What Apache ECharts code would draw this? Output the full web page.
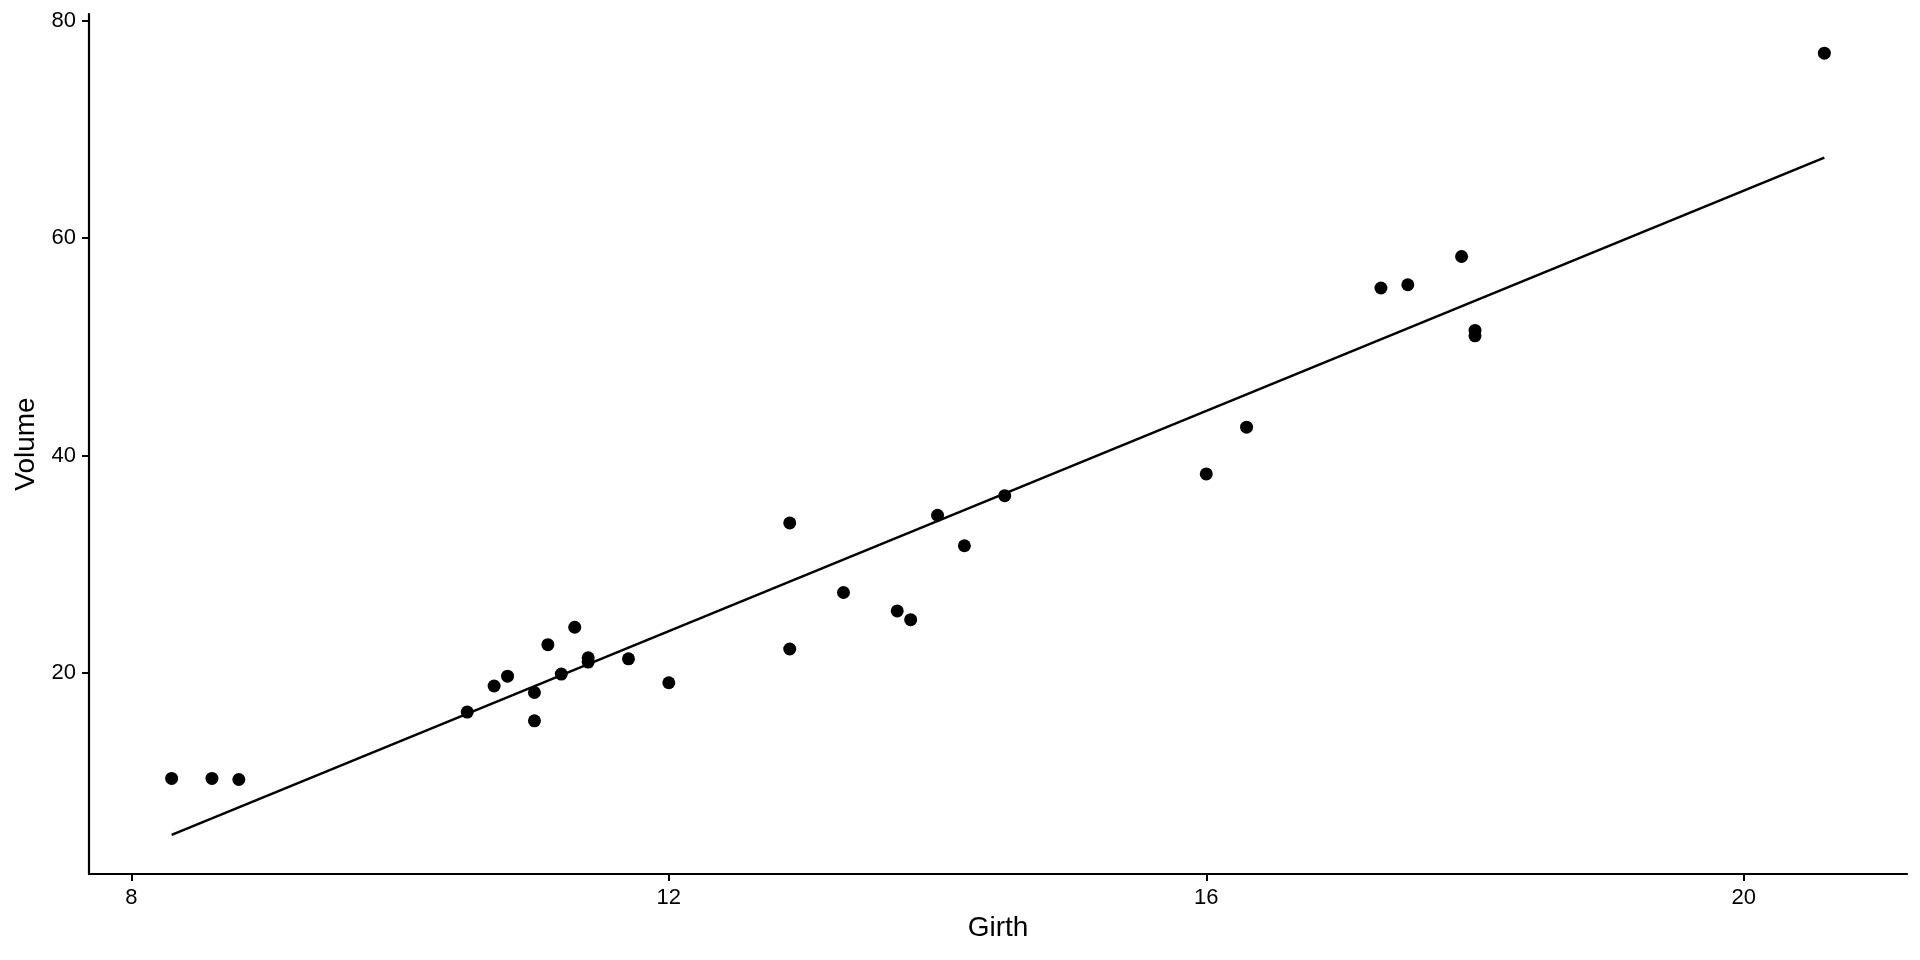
<!DOCTYPE html>
<html>
<head>
<meta charset="utf-8">
<script src="https://cdn.jsdelivr.net/npm/echarts@6/dist/echarts.min.js"></script>
<style>
  html, body { margin: 0; padding: 0; background: #fff; }
  #chart { width: 1920px; height: 960px; }
</style>
</head>
<body>
<div id="chart"></div>
<script>
// trees data: girth vs volume
const girth = [8.3, 8.6, 8.8, 10.5, 10.7, 10.8, 11.0, 11.0, 11.1, 11.2, 11.3, 11.4, 11.4, 11.7, 12.0,
               12.9, 12.9, 13.3, 13.7, 13.8, 14.0, 14.2, 14.5, 16.0, 16.3, 17.3, 17.5, 17.9, 18.0, 18.0, 20.6];
const volume = [10.3, 10.3, 10.2, 16.4, 18.8, 19.7, 15.6, 18.2, 22.6, 19.9, 24.2, 21.0, 21.4, 21.3, 19.1,
                22.2, 33.8, 27.4, 25.7, 24.9, 34.5, 31.7, 36.3, 38.3, 42.6, 55.4, 55.7, 58.3, 51.5, 51.0, 77.0];
// fitted line ends
const fitGirth = [8.3, 20.6];
const fitVolume = [5.1, 67.4];
const xTicks = [8, 12, 16, 20];
const yTicks = [20, 40, 60, 80];

(function(){
    let points = girth.map((g, i) => [g, volume[i]]);
    let fit = fitGirth.map((g, i) => [g, fitVolume[i]]);

    let axisCommon = {
        axisLine: { lineStyle: { color: '#000', width: 2.2 } },
        axisTick: { length: 7, lineStyle: { color: '#000', width: 2 } },
        splitLine: { show: false },
        nameTextStyle: { color: '#000', fontSize: 28, fontFamily: 'Liberation Sans' }
    };

    let chart = echarts.init(document.getElementById('chart'), null, { renderer: 'canvas' });
    chart.setOption({
        animation: false,
        backgroundColor: '#fff',
        grid: { left: 89, right: 13, top: 14, bottom: 86 },
        xAxis: Object.assign({}, axisCommon, {
            type: 'value',
            min: 7.685,
            max: 21.215,
            name: 'Girth',
            nameLocation: 'middle',
            nameGap: 38,
            axisTick: Object.assign({}, axisCommon.axisTick, { customValues: xTicks }),
            axisLabel: { customValues: xTicks, color: '#000', fontSize: 22, margin: 13, fontFamily: 'Liberation Sans' }
        }),
        yAxis: Object.assign({}, axisCommon, {
            type: 'value',
            min: 1.51,
            max: 80.6,
            name: 'Volume',
            nameLocation: 'middle',
            nameGap: 46,
            axisTick: Object.assign({}, axisCommon.axisTick, { customValues: yTicks }),
            axisLabel: { customValues: yTicks, color: '#000', fontSize: 22, margin: 13, fontFamily: 'Liberation Sans' }
        }),
        series: [
            {
                type: 'line',
                data: fit,
                showSymbol: false,
                lineStyle: { color: '#000', width: 2.5 },
                z: 2
            },
            {
                type: 'scatter',
                data: points,
                symbolSize: 13,
                itemStyle: { color: '#000', opacity: 1 },
                z: 3
            }
        ]
    });
})();
</script>
</body>
</html>
